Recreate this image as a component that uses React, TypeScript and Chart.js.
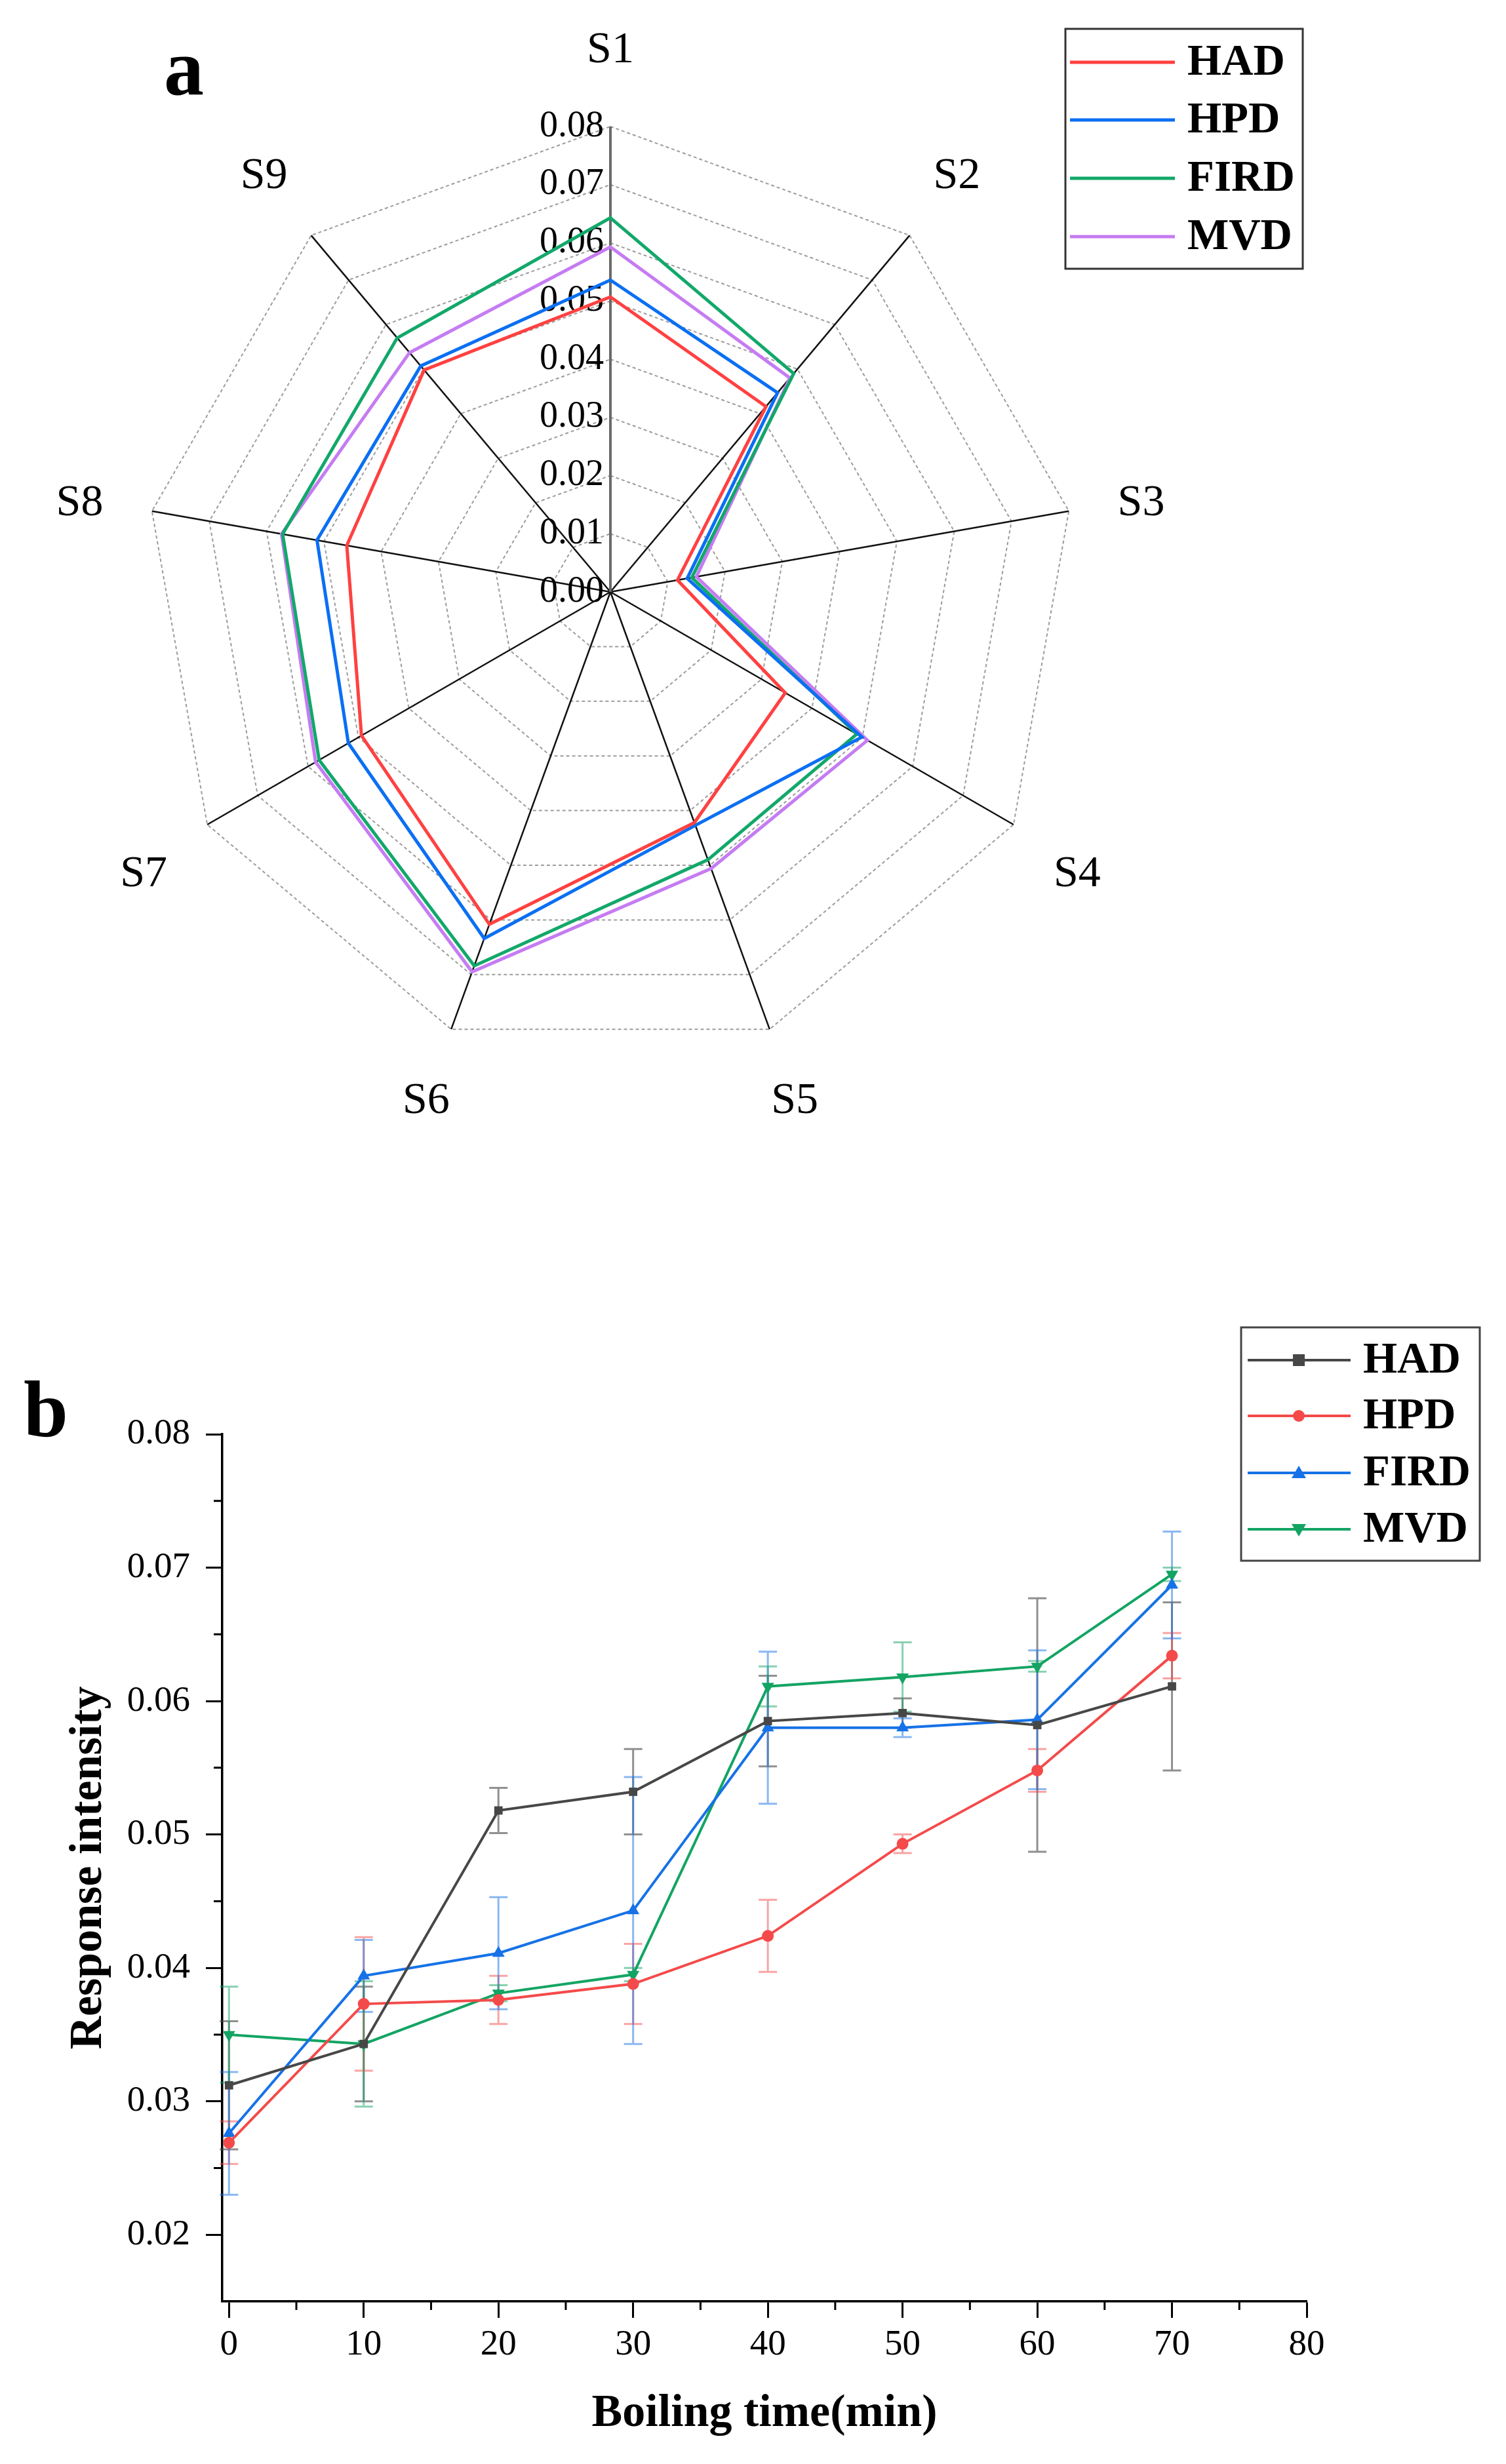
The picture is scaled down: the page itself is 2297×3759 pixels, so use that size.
import React, { useEffect, useRef } from 'react';
import { Chart, registerables } from 'chart.js';

Chart.register(...registerables);

const SERIF = '"Liberation Serif", "Times New Roman", serif';

// ---------- Panel a: radar data ----------
const radarLabels = ['S1', 'S2', 'S3', 'S4', 'S5', 'S6', 'S7', 'S8', 'S9'];
const radarHAD = [0.0507, 0.0416, 0.0117, 0.0347, 0.0422, 0.0608, 0.0494, 0.046, 0.0498];
const radarHPD = [0.0536, 0.0447, 0.0134, 0.0499, 0.0427, 0.0634, 0.052, 0.0512, 0.0507];
const radarFIRD = [0.0643, 0.049, 0.0142, 0.0489, 0.049, 0.0684, 0.0578, 0.0572, 0.057];
const radarMVD = [0.0593, 0.048, 0.015, 0.051, 0.0506, 0.0695, 0.0585, 0.0574, 0.0537];
const radarTickValues = [0, 0.01, 0.02, 0.03, 0.04, 0.05, 0.06, 0.07, 0.08];
const radarTickLabels = ['0.00', '0.01', '0.02', '0.03', '0.04', '0.05', '0.06', '0.07', '0.08'];

// ---------- Panel b: line data ----------
const seriesNames = ['HAD', 'HPD', 'FIRD', 'MVD'];
const times = [0, 10, 20, 30, 40, 50, 60, 70];
const lineHAD = [0.0312, 0.0343, 0.0518, 0.0532, 0.0585, 0.0591, 0.0582, 0.0611];
const errHAD = [0.0048, 0.0043, 0.0017, 0.0032, 0.0034, 0.0011, 0.0095, 0.0063];
const lineHPD = [0.0269, 0.0373, 0.0376, 0.0388, 0.0424, 0.0493, 0.0548, 0.0634];
const errHPD = [0.0016, 0.005, 0.0018, 0.003, 0.0027, 0.0007, 0.0016, 0.0017];
const lineFIRD = [0.0276, 0.0394, 0.0411, 0.0443, 0.058, 0.058, 0.0586, 0.0687];
const errFIRD = [0.0046, 0.0027, 0.0042, 0.01, 0.0057, 0.0007, 0.0052, 0.004];
const lineMVD = [0.035, 0.0343, 0.0381, 0.0395, 0.0611, 0.0618, 0.0626, 0.0695];
const errMVD = [0.0036, 0.0047, 0.0006, 0.0005, 0.0015, 0.0026, 0.0004, 0.0005];
const yMinorTicks = [0.025, 0.035, 0.045, 0.055, 0.065, 0.075];
const xMinorTicks = [5, 15, 25, 35, 45, 55, 65, 75];

const radarColors = ['#FF4141', '#0B6FF2', '#12A86A', '#C57CF2'];
const lineColors = ['#474747', '#F44A4A', '#1672E6', '#13A463'];
const errColors = ['rgba(70,70,70,0.6)', 'rgba(244,74,74,0.5)', 'rgba(22,114,230,0.5)', 'rgba(19,164,99,0.5)'];
const pointStyles = ['rect', 'circle', 'triangle', 'triangle'];
const pointRotations = [0, 0, 0, 180];
const pointRadii = [9, 9, 11, 11];

function drawMarker(ctx: CanvasRenderingContext2D, style: string, rot: number, cx: number, cy: number, color: string) {
  ctx.save();
  ctx.fillStyle = color;
  ctx.beginPath();
  if (style === 'rect') {
    ctx.rect(cx - 9, cy - 9, 18, 18);
  } else if (style === 'circle') {
    ctx.arc(cx, cy, 9, 0, Math.PI * 2);
  } else {
    const s = rot === 180 ? -1 : 1;
    ctx.moveTo(cx, cy - 11 * s);
    ctx.lineTo(cx - 11, cy + 8 * s);
    ctx.lineTo(cx + 11, cy + 8 * s);
    ctx.closePath();
  }
  ctx.fill();
  ctx.restore();
}

function RadarPanel() {
  const ref = useRef<HTMLCanvasElement | null>(null);
  useEffect(() => {
    if (!ref.current) return;
    const W = 2297;
    const H = 1800;
    const labelPlugin = {
      id: 'radarText',
      beforeDatasetsDraw(chart: any) {
        const s = chart.scales.r;
        const ctx = chart.ctx as CanvasRenderingContext2D;
        ctx.save();
        ctx.fillStyle = '#000';
        ctx.font = `56px ${SERIF}`;
        ctx.textAlign = 'right';
        ctx.textBaseline = 'middle';
        radarTickValues.forEach((v, i) => {
          const d = s.getDistanceFromCenterForValue(v);
          ctx.fillText(radarTickLabels[i], s.xCenter - 10, s.yCenter - d);
        });
        ctx.font = `68px ${SERIF}`;
        ctx.textAlign = 'center';
        radarLabels.forEach((lab, i) => {
          const p = s.getPointPosition(i, s.drawingArea + 112);
          const uy = (p.y - s.yCenter) / (s.drawingArea + 112);
          let dy = 8;
          if (uy < -0.5) dy = -4;
          else if (uy > 0.8) dy = 5;
          else if (uy > 0.3) dy = 20;
          ctx.fillText(lab, p.x, p.y + dy);
        });
        ctx.restore();
      },
      afterDraw(chart: any) {
        const ctx = chart.ctx as CanvasRenderingContext2D;
        ctx.save();
        ctx.fillStyle = '#000';
        ctx.font = `bold 122px ${SERIF}`;
        ctx.textAlign = 'left';
        ctx.textBaseline = 'alphabetic';
        ctx.fillText('a', 250, 144);
        ctx.strokeStyle = '#333';
        ctx.lineWidth = 3;
        ctx.strokeRect(1625, 44, 362, 366);
        const rows = [95, 183, 272, 361];
        ctx.font = `bold 67px ${SERIF}`;
        ctx.textBaseline = 'middle';
        rows.forEach((y, i) => {
          ctx.strokeStyle = radarColors[i];
          ctx.lineWidth = 5;
          ctx.beginPath();
          ctx.moveTo(1632, y);
          ctx.lineTo(1792, y);
          ctx.stroke();
          ctx.fillStyle = '#000';
          ctx.fillText(seriesNames[i], 1811, y + 2);
        });
        ctx.restore();
      },
    };
    const chart = new Chart(ref.current, {
      type: 'radar',
      data: {
        labels: radarLabels,
        datasets: [radarHAD, radarHPD, radarFIRD, radarMVD].map((d, i) => ({
          label: seriesNames[i],
          data: d,
          borderColor: radarColors[i],
          backgroundColor: 'rgba(0,0,0,0)',
          borderWidth: 5,
          pointRadius: 0,
          pointHoverRadius: 0,
          fill: false,
          tension: 0,
        })),
      },
      options: {
        responsive: false,
        animation: false,
        events: [],
        layout: { padding: { left: 221, right: W - 1641, top: 193, bottom: H - 1613 } },
        plugins: { legend: { display: false }, tooltip: { enabled: false } },
        scales: {
          r: {
            min: 0,
            max: 0.08,
            ticks: { stepSize: 0.01, display: false },
            pointLabels: { display: false },
            grid: { color: '#9c9c9c', lineWidth: 2, circular: false },
            border: { dash: [5, 4] },
            angleLines: {
              display: true,
              color: (c: any) => (c.index === 0 ? '#6a6a6a' : '#111'),
              lineWidth: (c: any) => (c.index === 0 ? 4 : 2.5),
            },
          },
        },
      } as any,
      plugins: [labelPlugin],
    });
    return () => chart.destroy();
  }, []);
  return <canvas ref={ref} width={2297} height={1800} style={{ position: 'absolute', left: 0, top: 0 }} />;
}

function LinePanel() {
  const ref = useRef<HTMLCanvasElement | null>(null);
  useEffect(() => {
    if (!ref.current) return;
    const W = 2297;
    const values = [lineHAD, lineHPD, lineFIRD, lineMVD];
    const errors = [errHAD, errHPD, errFIRD, errMVD];
    const extras = {
      id: 'extras',
      beforeDatasetsDraw(chart: any) {
        const ctx = chart.ctx as CanvasRenderingContext2D;
        const xs = chart.scales.x;
        const ys = chart.scales.y;
        ctx.save();
        values.forEach((vals, si) => {
          ctx.strokeStyle = errColors[si];
          ctx.lineWidth = 3;
          vals.forEach((v, j) => {
            const x = xs.getPixelForValue(times[j]);
            const yt = ys.getPixelForValue(v + errors[si][j]);
            const yb = ys.getPixelForValue(v - errors[si][j]);
            ctx.beginPath();
            ctx.moveTo(x, yt);
            ctx.lineTo(x, yb);
            ctx.moveTo(x - 14, yt);
            ctx.lineTo(x + 14, yt);
            ctx.moveTo(x - 14, yb);
            ctx.lineTo(x + 14, yb);
            ctx.stroke();
          });
        });
        ctx.restore();
      },
      afterDraw(chart: any) {
        const ctx = chart.ctx as CanvasRenderingContext2D;
        const xs = chart.scales.x;
        const ys = chart.scales.y;
        const area = chart.chartArea;
        ctx.save();
        ctx.strokeStyle = '#000';
        ctx.lineWidth = 3;
        ctx.beginPath();
        yMinorTicks.forEach((v) => {
          const y = ys.getPixelForValue(v);
          ctx.moveTo(area.left, y);
          ctx.lineTo(area.left - 13, y);
        });
        xMinorTicks.forEach((v) => {
          const x = xs.getPixelForValue(v);
          ctx.moveTo(x, area.bottom);
          ctx.lineTo(x, area.bottom + 13);
        });
        ctx.stroke();
        ctx.fillStyle = '#000';
        ctx.font = `bold 122px ${SERIF}`;
        ctx.textAlign = 'left';
        ctx.textBaseline = 'alphabetic';
        ctx.fillText('b', 36, 291);
        ctx.strokeStyle = '#444';
        ctx.lineWidth = 3;
        ctx.strokeRect(1893, 125, 364, 356);
        const rows = [175, 260, 347, 433];
        ctx.font = `bold 67px ${SERIF}`;
        ctx.textBaseline = 'middle';
        rows.forEach((y, i) => {
          ctx.strokeStyle = lineColors[i];
          ctx.lineWidth = 4;
          ctx.beginPath();
          ctx.moveTo(1903, y);
          ctx.lineTo(2060, y);
          ctx.stroke();
          drawMarker(ctx, pointStyles[i], pointRotations[i], 1981, y, lineColors[i]);
          ctx.fillStyle = '#000';
          ctx.fillText(seriesNames[i], 2079, y + 2);
        });
        ctx.restore();
      },
    };
    const chart = new Chart(ref.current, {
      type: 'line',
      data: {
        datasets: values.map((vals, i) => ({
          label: seriesNames[i],
          data: times.map((t, j) => ({ x: t, y: vals[j] })),
          borderColor: lineColors[i],
          backgroundColor: lineColors[i],
          pointBackgroundColor: lineColors[i],
          pointBorderColor: lineColors[i],
          pointBorderWidth: 0,
          pointStyle: pointStyles[i],
          pointRotation: pointRotations[i],
          pointRadius: pointRadii[i],
          pointHoverRadius: pointRadii[i],
          borderWidth: 4,
          tension: 0,
          fill: false,
        })),
      },
      options: {
        responsive: false,
        animation: false,
        events: [],
        layout: { padding: { left: 0, right: W - 1993, top: 288, bottom: 34 } },
        plugins: { legend: { display: false }, tooltip: { enabled: false } },
        scales: {
          x: {
            type: 'linear',
            min: -0.5,
            max: 80,
            afterFit: (s: any) => {
              s.height = 214;
            },
            ticks: {
              stepSize: 10,
              includeBounds: false,
              padding: 9,
              color: '#000',
              font: { family: SERIF, size: 55 },
              callback: (v: any) => String(v),
            },
            grid: { drawOnChartArea: false, drawTicks: true, tickLength: 25, tickWidth: 3, tickColor: '#000' },
            border: { display: true, color: '#000', width: 3.5 },
            title: {
              display: true,
              text: 'Boiling time(min)',
              color: '#000',
              font: { family: SERIF, size: 70, weight: 'bold' },
              padding: { top: 0, bottom: 0 },
            },
          },
          y: {
            type: 'linear',
            min: 0.015,
            max: 0.08,
            afterFit: (s: any) => {
              s.width = 339;
            },
            ticks: {
              stepSize: 0.01,
              includeBounds: false,
              padding: 24,
              color: '#000',
              font: { family: SERIF, size: 55 },
              callback: (v: any) => Number(v).toFixed(2),
            },
            grid: { drawOnChartArea: false, drawTicks: true, tickLength: 25, tickWidth: 3, tickColor: '#000' },
            border: { display: true, color: '#000', width: 3.5 },
            title: {
              display: true,
              text: 'Response intensity',
              color: '#000',
              font: { family: SERIF, size: 70, weight: 'bold' },
              padding: { top: 94, bottom: 0 },
            },
          },
        },
      } as any,
      plugins: [extras],
    });
    return () => chart.destroy();
  }, []);
  return <canvas ref={ref} width={2297} height={1859} style={{ position: 'absolute', left: 0, top: 1900 }} />;
}

export default function App() {
  return (
    <div style={{ position: 'absolute', left: 0, top: 0, width: 2297, height: 3759, background: '#fff', overflow: 'hidden' }}>
      <RadarPanel />
      <LinePanel />
    </div>
  );
}
